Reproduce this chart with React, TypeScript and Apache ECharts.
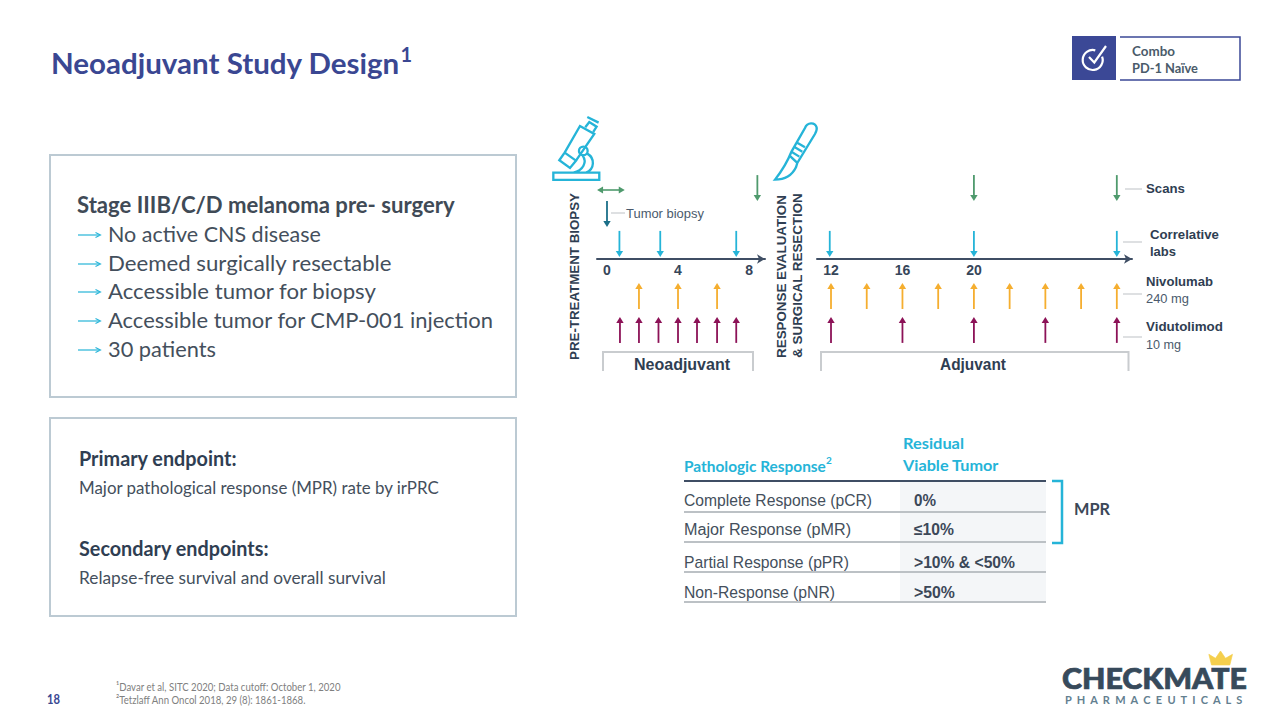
import React, { useEffect, useRef } from "react";
import * as echarts from "echarts";

// ---------- data ----------
const neoWeekTicks = [0, 4, 8];
const adjWeekTicks = [12, 16, 20];
const neoScans = [8.47];
const adjScans = [20, 28];
const neoBiopsy = [0];
const biopsyWindow = [-0.56, 1.0];
const neoLabs = [0.7, 3.0, 7.28];
const adjLabs = [11.93, 20, 28];
const neoNivolumab = [1.8, 4, 6.2];
const adjNivolumab = [12, 14, 16, 18, 20, 22, 24, 26, 28];
const neoVidutolimod = [0.73, 1.8, 2.9, 4, 5.07, 6.2, 7.28];
const adjVidutolimod = [12, 16, 20, 24, 28];

const criteria = [
  "No active CNS disease",
  "Deemed surgically resectable",
  "Accessible tumor for biopsy",
  "Accessible tumor for CMP-001 injection",
  "30 patients",
];
const tableRows = ["Complete Response (pCR)", "Major Response (pMR)", "Partial Response (pPR)", "Non-Response (pNR)"];
const tableValues = ["0%", "≤10%", ">10% & <50%", ">50%"];

// ---------- styles ----------
const SANS = "Lato";
const ARIAL = "Liberation Sans";
const NAVY = "#3a4792";
const SLATE = "#2f3e52";
const BODY = "#444f5c";
const CYAN = "#25b4d8";
const ORANGE = "#f5ae2f";
const PURPLE = "#8c1257";
const GREEN = "#4f9a6d";
const TEAL = "#1b6f88";
const GREY = "#c9cccf";

const measureCtx = document.createElement("canvas").getContext("2d")!;
type TOpt = { size: number; weight?: string | number; family?: string; color: string; w?: number; align?: string; rot?: number; thick?: number };
function T(text: string, x: number, y: number, o: TOpt) {
  const family = o.family || SANS;
  const weight = o.weight || "normal";
  let sx = 1;
  if (o.w) {
    measureCtx.font = `${weight} ${o.size}px "${family}"`;
    sx = o.w / measureCtx.measureText(text).width;
  }
  return {
    type: "text",
    x,
    y,
    scaleX: sx,
    rotation: o.rot || 0,
    silent: true,
    z: 10,
    style: {
      text,
      fill: o.color,
      fontSize: o.size,
      fontWeight: weight,
      fontFamily: family,
      align: o.align || "left",
      verticalAlign: "middle",
      ...(o.thick ? { stroke: o.color, lineWidth: o.thick } : {}),
    },
  };
}
const L = (x1: number, y1: number, x2: number, y2: number, stroke: string, lineWidth = 1.5, z = 5) => ({
  type: "line",
  silent: true,
  z,
  shape: { x1, y1, x2, y2 },
  style: { stroke, lineWidth },
});
const P = (pts: number[][], stroke: string, lineWidth = 2) => ({
  type: "polyline",
  silent: true,
  z: 5,
  shape: { points: pts },
  style: { stroke, lineWidth, fill: "none" },
});
const BOX = (x: number, y: number, w: number, h: number, stroke: string | null, fill: string, lineWidth = 2, z = 1) => ({
  type: "rect",
  silent: true,
  z,
  shape: { x, y, width: w, height: h },
  style: { stroke: stroke || "none", fill, lineWidth },
});

const MICROSCOPE =
  "M10 182 H148 V204 H10 Z " +
  "M28 145 L44 122 L78 146 L60 168 Z " +
  "M44 122 L90 42 L133 66 L78 146 " +
  "M106 46 L118 30 L140 44 L130 60 " +
  "M112 15 L146 32 " +
  "M113 117 A13 13 0 1 1 87 117 A13 13 0 1 1 113 117 Z " +
  "M112 125 C135 138 135 172 108 182 " +
  "M98 131 C112 150 100 176 70 182";
const SCALPEL =
  "M105 30 C112 12 135 12 140 28 C142 35 138 42 135 48 L82 135 L78 148 C65 175 40 185 15 185 C35 160 55 125 65 100 Z " +
  "M78 72 L105 88 M70 85 L97 101 M62 100 L88 116 M58 112 L82 135";
const CROWN = "M462 28 L482 40 L497 18 L512 40 L533 28 L525 60 L470 60 Z";

echarts.graphic.registerShape("microscope", echarts.graphic.extendPath(MICROSCOPE, {}) as any);
echarts.graphic.registerShape("scalpel", echarts.graphic.extendPath(SCALPEL, {}) as any);
echarts.graphic.registerShape("crown", echarts.graphic.extendPath(CROWN, {}) as any);

const arrowRender = (dir: "down" | "up", color: string, lineWidth = 1.8) => (_p: any, api: any) => {
  const [x, y] = api.coord([api.value(0), api.value(1)]);
  const s = dir === "down" ? -1 : 1;
  return {
    type: "group",
    children: [
      { type: "line", shape: { x1: x, y1: y + s * 4, x2: x, y2: y + s * 26 }, style: { stroke: color, lineWidth } },
      {
        type: "polygon",
        shape: { points: [[x, y], [x - 3.7, y + s * 6], [x + 3.7, y + s * 6]] },
        style: { fill: color },
      },
    ],
  };
};

const doubleRender = (color: string) => (_p: any, api: any) => {
  const [x1, y] = api.coord([api.value(0), api.value(2)]);
  const [x2] = api.coord([api.value(1), api.value(2)]);
  return {
    type: "group",
    children: [
      { type: "line", shape: { x1: x1 + 4, y1: y, x2: x2 - 4, y2: y }, style: { stroke: color, lineWidth: 1.6 } },
      { type: "polygon", shape: { points: [[x1, y], [x1 + 6, y - 3.5], [x1 + 6, y + 3.5]] }, style: { fill: color } },
      { type: "polygon", shape: { points: [[x2, y], [x2 - 6, y - 3.5], [x2 - 6, y + 3.5]] }, style: { fill: color } },
    ],
  };
};

// lanes on the hidden y axis; the week axis sits at 0 and lower lanes run below the grid
const LANE_SCANS = 1.93;
const LANE_BIOPSY = 1.07;
const LANE_LABS = 0.07;
const LANE_NIVO = -0.8;
const LANE_VIDU = -1.93;
const LANE_WINDOW = 2.3;

const laneSeries = (name: string, weeks: number[], lane: number, dir: "down" | "up", color: string, idx: number) => ({
  type: "custom",
  name,
  coordinateSystem: "cartesian2d",
  xAxisIndex: idx,
  yAxisIndex: idx,
  clip: false,
  silent: true,
  renderItem: arrowRender(dir, color),
  data: weeks.map((w) => [w, lane]),
});

const weekAxis = (idx: number, min: number, max: number, ticks: number[]) => ({
  type: "value",
  gridIndex: idx,
  min,
  max,
  splitLine: { show: false },
  axisTick: { show: false },
  axisLine: {
    show: true,
    symbol: ["none", "arrow"],
    symbolSize: [7, 8],
    lineStyle: { color: "#3f4e64", width: 2 },
  },
  axisLabel: {
    customValues: ticks,
    margin: 4,
    color: "#36465a",
    fontFamily: ARIAL,
    fontWeight: "bold",
    fontSize: 14,
  },
});

const laneAxis = (idx: number) => ({ type: "value", gridIndex: idx, min: 0, max: 3, show: false });

function buildGraphics() {
  const g: any[] = [];
  // title
  g.push(T("Neoadjuvant Study Design", 51, 62.5, { size: 29, weight: "bold", color: NAVY, w: 349 }));
  g.push(T("1", 400.5, 54, { size: 20, weight: "bold", color: NAVY }));

  // badge
  g.push(BOX(1072, 36, 44, 44, null, "#3b4896", 0));
  g.push(P([[1120, 37], [1240, 37], [1240, 80], [1120, 80]], "#3b4896", 1.5));
  g.push({
    type: "arc",
    silent: true,
    z: 6,
    shape: { cx: 1092.7, cy: 60, r: 10, startAngle: (-20 * Math.PI) / 180, endAngle: (285 * Math.PI) / 180 },
    style: { stroke: "#fff", lineWidth: 2.2, fill: "none" },
  });
  g.push({
    type: "polyline",
    silent: true,
    z: 6,
    shape: { points: [[1089, 57], [1094.3, 62.5], [1106, 46]] },
    style: { stroke: "#fff", lineWidth: 2.2, fill: "none" },
  });
  g.push(T("Combo", 1132, 50, { size: 14, weight: "bold", color: "#4a5b6a", w: 43 }));
  g.push(T("PD-1 Naïve", 1132, 68, { size: 14, weight: "bold", color: "#4a5b6a", w: 66 }));

  // left boxes
  g.push(BOX(50, 155, 466, 242, "#bccad3", "#fff"));
  g.push(BOX(50, 418, 466, 198, "#bccad3", "#fff"));

  g.push(T("Stage IIIB/C/D melanoma pre- surgery", 77, 205, { size: 22, weight: "bold", color: "#404a56", w: 378 }));
  const critY = [234, 263, 291, 320, 349];
  const critW = [213, 284, 269, 386, 108];
  criteria.forEach((c, i) => {
    g.push(L(78, critY[i] + 1, 99, critY[i] + 1, CYAN, 1.2));
    g.push({
      type: "polyline",
      silent: true,
      z: 5,
      shape: { points: [[95.5, critY[i] - 1.5], [100.5, critY[i] + 1], [95.5, critY[i] + 3.5]] },
      style: { stroke: CYAN, lineWidth: 1.1, fill: "none" },
    });
    g.push(T(c, 108, critY[i] - 0.5, { size: 22, color: BODY, w: critW[i] }));
  });

  g.push(T("Primary endpoint:", 79, 457.5, { size: 20, weight: "bold", color: SLATE, w: 158 }));
  g.push(T("Major pathological response (MPR) rate by irPRC", 79, 487, { size: 17, color: BODY, w: 361 }));
  g.push(T("Secondary endpoints:", 79, 547.5, { size: 20, weight: "bold", color: SLATE, w: 190 }));
  g.push(T("Relapse-free survival and overall survival", 79, 578, { size: 17, color: BODY, w: 307 }));

  // icons
  g.push({
    type: "microscope",
    x: 550,
    y: 112,
    scaleX: 1 / 3,
    scaleY: 1 / 3,
    silent: true,
    z: 5,
    style: { stroke: CYAN, fill: "none", lineWidth: 7 },
  });
  g.push({
    type: "scalpel",
    x: 770,
    y: 118,
    scaleX: 1 / 3,
    scaleY: 1 / 3,
    silent: true,
    z: 5,
    style: { stroke: CYAN, fill: "none", lineWidth: 7 },
  });

  // rotated phase labels
  g.push(T("PRE-TREATMENT BIOPSY", 575, 276.5, { size: 13, weight: "bold", family: ARIAL, color: SLATE, w: 167, align: "center", rot: Math.PI / 2 }));
  g.push(T("RESPONSE EVALUATION", 782, 276.5, { size: 13, weight: "bold", family: ARIAL, color: SLATE, w: 163, align: "center", rot: Math.PI / 2 }));
  g.push(T("& SURGICAL RESECTION", 797.5, 275.5, { size: 13, weight: "bold", family: ARIAL, color: SLATE, w: 165, align: "center", rot: Math.PI / 2 }));

  // diagram annotations
  g.push(L(611, 213, 625, 213, GREY, 1.2));
  g.push(T("Tumor biopsy", 626, 213, { size: 13, family: ARIAL, color: "#4a5a6c", w: 78 }));
  g.push(L(1125, 189, 1142, 189, GREY, 1.2));
  g.push(T("Scans", 1146, 189, { size: 13, weight: "bold", family: ARIAL, color: SLATE, w: 39 }));
  g.push(L(1123, 242, 1142, 242, GREY, 1.2));
  g.push(T("Correlative", 1150, 235, { size: 13, weight: "bold", family: ARIAL, color: SLATE, w: 69 }));
  g.push(T("labs", 1150, 251, { size: 13, weight: "bold", family: ARIAL, color: SLATE, w: 26 }));
  g.push(L(1123, 294, 1142, 294, GREY, 1.2));
  g.push(T("Nivolumab", 1146, 282, { size: 13, weight: "bold", family: ARIAL, color: SLATE, w: 67 }));
  g.push(T("240 mg", 1146, 298, { size: 13, family: ARIAL, color: "#4a5a6c", w: 43 }));
  g.push(L(1123, 337, 1142, 337, GREY, 1.2));
  g.push(T("Vidutolimod", 1146, 327, { size: 13, weight: "bold", family: ARIAL, color: SLATE, w: 77 }));
  g.push(T("10 mg", 1146, 344, { size: 13, family: ARIAL, color: "#4a5a6c", w: 35 }));

  // phase brackets
  g.push(P([[603, 371], [603, 352], [753, 352], [753, 371]], GREY, 2));
  g.push(P([[821, 371], [821, 352], [1128.5, 352], [1128.5, 371]], GREY, 2));
  g.push(T("Neoadjuvant", 682, 364, { size: 16, weight: "bold", family: ARIAL, color: SLATE, w: 96, align: "center" }));
  g.push(T("Adjuvant", 973, 364, { size: 16, weight: "bold", family: ARIAL, color: SLATE, w: 66, align: "center" }));

  // table
  g.push(BOX(900, 482, 146, 120, null, "#f4f6f8", 0, 1));
  g.push(T("Pathologic Response", 684, 465, { size: 16, weight: "bold", color: CYAN, w: 142 }));
  g.push(T("2", 826, 460, { size: 10, weight: "bold", color: CYAN }));
  g.push(T("Residual", 903, 443, { size: 16, weight: "bold", color: CYAN, w: 61 }));
  g.push(T("Viable Tumor", 903, 465, { size: 16, weight: "bold", color: CYAN, w: 96 }));
  g.push(L(684, 481, 1046, 481, "#3f4e64", 2));
  const rowY = [500, 529, 562, 592];
  const lineY = [512, 542, 572, 602];
  const rowW = [188, 167, 165, 151];
  const valW = [22, 40, 101, 41];
  tableRows.forEach((r, i) => {
    g.push(T(r, 684, rowY[i], { size: 16, family: ARIAL, color: BODY, w: rowW[i] }));
    g.push(T(tableValues[i], 914, rowY[i], { size: 16, weight: "bold", family: ARIAL, color: "#3c4858", w: valW[i] }));
    g.push(L(684, lineY[i], 1046, lineY[i], "#bcc1c5", 2));
  });
  g.push(P([[1052, 481], [1062, 481], [1062, 543], [1052, 543]], CYAN, 2.5));
  g.push(T("MPR", 1074, 509, { size: 17, weight: "bold", color: "#3c4858", w: 36 }));

  // footer
  g.push(T("18", 47, 699, { size: 13, weight: "bold", color: NAVY, w: 13 }));
  g.push(T("¹Davar et al, SITC 2020; Data cutoff: October 1, 2020", 116, 686, { size: 12, color: "#808080", w: 225 }));
  g.push(T("²Tetzlaff Ann Oncol 2018, 29 (8): 1861-1868.", 116, 699, { size: 12, color: "#808080", w: 190 }));

  // logo
  g.push({
    type: "crown",
    x: 1055,
    y: 645,
    scaleX: 1 / 3,
    scaleY: 1 / 3,
    silent: true,
    z: 5,
    style: { fill: "#f5cf4d", stroke: "#f5cf4d", lineWidth: 2 },
  });
  g.push(T("CHECKMATE", 1062, 678, { size: 28, weight: 900, color: "#374a5b", w: 185, thick: 0.7 }));
  g.push(T("P  H  A  R  M  A  C  E  U  T  I  C  A  L  S", 1065, 699, { size: 11, weight: "bold", color: "#638090", w: 181 }));
  return g;
}

export default function App() {
  const ref = useRef<HTMLDivElement>(null);
  useEffect(() => {
    const chart = echarts.init(ref.current!, undefined, { renderer: "svg" });
    chart.setOption({
      animation: false,
      backgroundColor: "#ffffff",
      grid: [
        { left: 597, width: 168, top: 169, height: 90 },
        { left: 817, width: 315, top: 169, height: 90 },
      ],
      xAxis: [weekAxis(0, -0.563, 8.9, neoWeekTicks), weekAxis(1, 11.216, 28.85, adjWeekTicks)],
      yAxis: [laneAxis(0), laneAxis(1)],
      graphic: { elements: buildGraphics() },
      series: [
        {
          type: "custom",
          name: "Biopsy window",
          coordinateSystem: "cartesian2d",
          xAxisIndex: 0,
          yAxisIndex: 0,
          clip: false,
          silent: true,
          renderItem: doubleRender(GREEN),
          encode: { x: [0, 1], y: 2 },
          data: [[biopsyWindow[0], biopsyWindow[1], LANE_WINDOW]],
        },
        laneSeries("Scans", neoScans, LANE_SCANS, "down", GREEN, 0),
        laneSeries("Scans adjuvant", adjScans, LANE_SCANS, "down", GREEN, 1),
        laneSeries("Tumor biopsy", neoBiopsy, LANE_BIOPSY, "down", TEAL, 0),
        laneSeries("Correlative labs", neoLabs, LANE_LABS, "down", CYAN, 0),
        laneSeries("Correlative labs adjuvant", adjLabs, LANE_LABS, "down", CYAN, 1),
        laneSeries("Nivolumab", neoNivolumab, LANE_NIVO, "up", ORANGE, 0),
        laneSeries("Nivolumab adjuvant", adjNivolumab, LANE_NIVO, "up", ORANGE, 1),
        laneSeries("Vidutolimod", neoVidutolimod, LANE_VIDU, "up", PURPLE, 0),
        laneSeries("Vidutolimod adjuvant", adjVidutolimod, LANE_VIDU, "up", PURPLE, 1),
      ],
    });
    return () => chart.dispose();
  }, []);
  return <div ref={ref} style={{ position: "absolute", left: 0, top: 0, width: 1280, height: 720 }} />;
}
